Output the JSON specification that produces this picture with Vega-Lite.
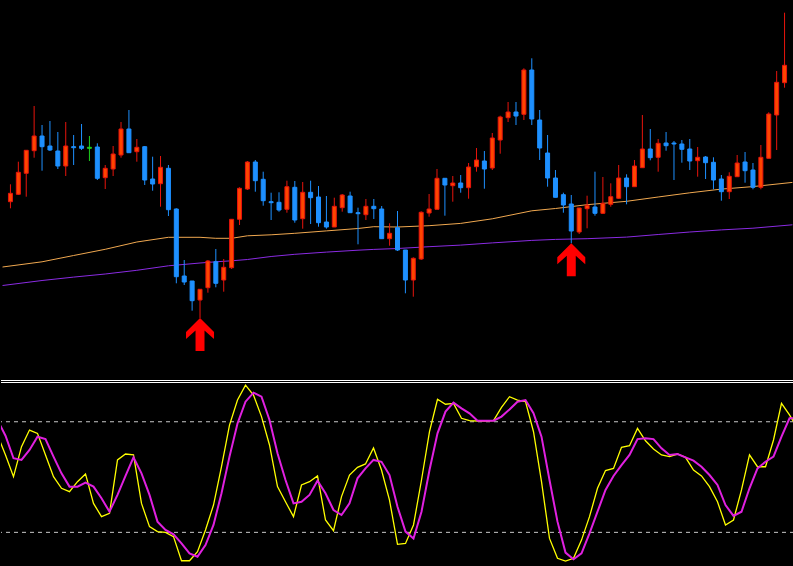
{
"$schema": "https://vega.github.io/schema/vega-lite/v6.json",
"background": "#000000",
"padding": 0,
"spacing": 0,
"config": {"view": {"stroke": null}},
"datasets": {
"candles": [
{"i":0,"d":"u","o":1.22983,"h":1.23157,"l":1.22917,"c":1.23067},
{"i":1,"d":"u","o":1.23057,"h":1.23383,"l":1.2305,"c":1.23277},
{"i":2,"d":"u","o":1.23267,"h":1.235,"l":1.23033,"c":1.23497},
{"i":3,"d":"u","o":1.23493,"h":1.2394,"l":1.23423,"c":1.2364},
{"i":4,"d":"d","o":1.2364,"h":1.2375,"l":1.23293,"c":1.23533},
{"i":5,"d":"d","o":1.2354,"h":1.2379,"l":1.2349,"c":1.235},
{"i":6,"d":"d","o":1.2349,"h":1.2368,"l":1.2331,"c":1.2334},
{"i":7,"d":"u","o":1.2334,"h":1.2378,"l":1.2324,"c":1.2354},
{"i":8,"d":"d","o":1.23533,"h":1.2365,"l":1.2335,"c":1.23523},
{"i":9,"d":"d","o":1.2354,"h":1.2376,"l":1.235,"c":1.23517},
{"i":10,"d":"f","o":1.23527,"h":1.2364,"l":1.2339,"c":1.23517},
{"i":11,"d":"d","o":1.2353,"h":1.23567,"l":1.232,"c":1.23217},
{"i":12,"d":"u","o":1.23223,"h":1.2335,"l":1.2311,"c":1.23317},
{"i":13,"d":"u","o":1.2331,"h":1.2354,"l":1.2324,"c":1.2346},
{"i":14,"d":"u","o":1.2345,"h":1.2378,"l":1.23423,"c":1.2371},
{"i":15,"d":"d","o":1.2371,"h":1.239,"l":1.23473,"c":1.23473},
{"i":16,"d":"u","o":1.23483,"h":1.2361,"l":1.23383,"c":1.23527},
{"i":17,"d":"d","o":1.23533,"h":1.2354,"l":1.2315,"c":1.232},
{"i":18,"d":"d","o":1.2321,"h":1.23433,"l":1.23093,"c":1.2316},
{"i":19,"d":"u","o":1.23163,"h":1.2344,"l":1.22933,"c":1.23327},
{"i":20,"d":"d","o":1.23317,"h":1.2335,"l":1.2284,"c":1.22903},
{"i":21,"d":"d","o":1.2291,"h":1.22917,"l":1.22167,"c":1.22233},
{"i":22,"d":"d","o":1.2224,"h":1.224,"l":1.2215,"c":1.2218},
{"i":23,"d":"d","o":1.2219,"h":1.2219,"l":1.21893,"c":1.21993},
{"i":24,"d":"u","o":1.22,"h":1.22107,"l":1.2182,"c":1.22107,"s":1},
{"i":25,"d":"u","o":1.22123,"h":1.224,"l":1.22073,"c":1.2239},
{"i":26,"d":"d","o":1.22383,"h":1.2251,"l":1.22127,"c":1.22167},
{"i":27,"d":"u","o":1.222,"h":1.2241,"l":1.22083,"c":1.22327},
{"i":28,"d":"u","o":1.22323,"h":1.22807,"l":1.2231,"c":1.22807},
{"i":29,"d":"u","o":1.22807,"h":1.23127,"l":1.2275,"c":1.23117},
{"i":30,"d":"u","o":1.2311,"h":1.2339,"l":1.231,"c":1.2338},
{"i":31,"d":"d","o":1.2338,"h":1.234,"l":1.23083,"c":1.23193},
{"i":32,"d":"d","o":1.23207,"h":1.23283,"l":1.22943,"c":1.22993},
{"i":33,"d":"d","o":1.22983,"h":1.23073,"l":1.228,"c":1.22973},
{"i":34,"d":"d","o":1.22977,"h":1.23077,"l":1.22883,"c":1.229},
{"i":35,"d":"u","o":1.22907,"h":1.23193,"l":1.22873,"c":1.23133},
{"i":36,"d":"d","o":1.23127,"h":1.2319,"l":1.22773,"c":1.228},
{"i":37,"d":"u","o":1.22813,"h":1.2318,"l":1.22713,"c":1.23077},
{"i":38,"d":"d","o":1.23077,"h":1.23193,"l":1.2276,"c":1.23023},
{"i":39,"d":"d","o":1.2303,"h":1.2314,"l":1.22733,"c":1.22773},
{"i":40,"d":"d","o":1.2278,"h":1.2304,"l":1.22713,"c":1.2273},
{"i":41,"d":"u","o":1.2273,"h":1.23023,"l":1.2273,"c":1.22937},
{"i":42,"d":"u","o":1.22923,"h":1.2306,"l":1.22883,"c":1.2305},
{"i":43,"d":"d","o":1.2304,"h":1.23083,"l":1.22873,"c":1.22873},
{"i":44,"d":"d","o":1.22873,"h":1.22923,"l":1.22557,"c":1.22863},
{"i":45,"d":"u","o":1.22853,"h":1.2301,"l":1.228,"c":1.22937},
{"i":46,"d":"d","o":1.22937,"h":1.2301,"l":1.2281,"c":1.22913},
{"i":47,"d":"d","o":1.2291,"h":1.2294,"l":1.22613,"c":1.22613},
{"i":48,"d":"u","o":1.22613,"h":1.22767,"l":1.22543,"c":1.22667},
{"i":49,"d":"d","o":1.22723,"h":1.2289,"l":1.2249,"c":1.225},
{"i":50,"d":"d","o":1.225,"h":1.225,"l":1.22067,"c":1.222},
{"i":51,"d":"u","o":1.222,"h":1.22427,"l":1.22033,"c":1.22417},
{"i":52,"d":"u","o":1.2241,"h":1.22887,"l":1.224,"c":1.22877},
{"i":53,"d":"u","o":1.2287,"h":1.2306,"l":1.22833,"c":1.2291},
{"i":54,"d":"u","o":1.22907,"h":1.2331,"l":1.22907,"c":1.23217},
{"i":55,"d":"d","o":1.23217,"h":1.23217,"l":1.22843,"c":1.2315},
{"i":56,"d":"u","o":1.23143,"h":1.2324,"l":1.22983,"c":1.2317},
{"i":57,"d":"d","o":1.2317,"h":1.2325,"l":1.23073,"c":1.23123},
{"i":58,"d":"u","o":1.23123,"h":1.2337,"l":1.23013,"c":1.2333},
{"i":59,"d":"u","o":1.23333,"h":1.2352,"l":1.23283,"c":1.234},
{"i":60,"d":"d","o":1.2339,"h":1.2349,"l":1.23113,"c":1.2331},
{"i":61,"d":"u","o":1.2332,"h":1.2367,"l":1.233,"c":1.2362},
{"i":62,"d":"u","o":1.236,"h":1.23843,"l":1.23463,"c":1.2383},
{"i":63,"d":"u","o":1.23823,"h":1.2398,"l":1.2378,"c":1.2388},
{"i":64,"d":"d","o":1.2388,"h":1.2398,"l":1.2375,"c":1.2384},
{"i":65,"d":"u","o":1.23857,"h":1.24317,"l":1.238,"c":1.243},
{"i":66,"d":"d","o":1.243,"h":1.24417,"l":1.2375,"c":1.2381},
{"i":67,"d":"d","o":1.238,"h":1.239,"l":1.234,"c":1.2352},
{"i":68,"d":"d","o":1.2347,"h":1.2365,"l":1.23133,"c":1.2322},
{"i":69,"d":"d","o":1.2322,"h":1.233,"l":1.23027,"c":1.23027},
{"i":70,"d":"d","o":1.23053,"h":1.23073,"l":1.22873,"c":1.2295},
{"i":71,"d":"d","o":1.2296,"h":1.2305,"l":1.22567,"c":1.2269,"s":1},
{"i":72,"d":"u","o":1.2268,"h":1.2292,"l":1.2266,"c":1.2292},
{"i":73,"d":"u","o":1.22913,"h":1.23043,"l":1.22717,"c":1.22947},
{"i":74,"d":"d","o":1.2293,"h":1.23283,"l":1.22843,"c":1.22867},
{"i":75,"d":"u","o":1.22867,"h":1.2323,"l":1.2286,"c":1.22967},
{"i":76,"d":"u","o":1.22957,"h":1.23167,"l":1.22933,"c":1.23033},
{"i":77,"d":"u","o":1.23017,"h":1.2335,"l":1.2301,"c":1.2322},
{"i":78,"d":"d","o":1.2322,"h":1.23257,"l":1.22957,"c":1.23133},
{"i":79,"d":"u","o":1.23133,"h":1.234,"l":1.23133,"c":1.2334},
{"i":80,"d":"u","o":1.23323,"h":1.2385,"l":1.23323,"c":1.2351},
{"i":81,"d":"d","o":1.2351,"h":1.2371,"l":1.23397,"c":1.23423},
{"i":82,"d":"u","o":1.23427,"h":1.2361,"l":1.23283,"c":1.23567},
{"i":83,"d":"d","o":1.2357,"h":1.2368,"l":1.23493,"c":1.23543},
{"i":84,"d":"d","o":1.2357,"h":1.2359,"l":1.232,"c":1.2356},
{"i":85,"d":"d","o":1.2356,"h":1.236,"l":1.23373,"c":1.23507},
{"i":86,"d":"d","o":1.2351,"h":1.2361,"l":1.233,"c":1.2339},
{"i":87,"d":"u","o":1.23393,"h":1.2353,"l":1.23233,"c":1.23427},
{"i":88,"d":"d","o":1.2343,"h":1.2344,"l":1.2321,"c":1.23373},
{"i":89,"d":"d","o":1.23377,"h":1.23427,"l":1.23107,"c":1.232},
{"i":90,"d":"d","o":1.2321,"h":1.2325,"l":1.22993,"c":1.23083},
{"i":91,"d":"u","o":1.23083,"h":1.23277,"l":1.2301,"c":1.23237},
{"i":92,"d":"u","o":1.23233,"h":1.2345,"l":1.23233,"c":1.2337},
{"i":93,"d":"d","o":1.2338,"h":1.2348,"l":1.23173,"c":1.23293},
{"i":94,"d":"d","o":1.233,"h":1.2337,"l":1.23107,"c":1.23127},
{"i":95,"d":"u","o":1.23127,"h":1.2355,"l":1.23107,"c":1.23427},
{"i":96,"d":"u","o":1.23417,"h":1.23877,"l":1.23417,"c":1.2386},
{"i":97,"d":"u","o":1.2385,"h":1.2429,"l":1.235,"c":1.24177},
{"i":98,"d":"u","o":1.24173,"h":1.24873,"l":1.24123,"c":1.24347}
],
"ma": [
{"i":-1,"a":1.2233,"b":1.22145},
{"i":4,"a":1.22382,"b":1.22195},
{"i":8,"a":1.22445,"b":1.22229},
{"i":12,"a":1.22507,"b":1.2226},
{"i":16,"a":1.2258,"b":1.22297},
{"i":20,"a":1.22627,"b":1.22342},
{"i":24,"a":1.22627,"b":1.2237},
{"i":26,"a":1.22617,"b":1.22382},
{"i":28,"a":1.22617,"b":1.22392},
{"i":30,"a":1.22642,"b":1.22405},
{"i":33,"a":1.22652,"b":1.22435},
{"i":36,"a":1.22667,"b":1.22457},
{"i":40,"a":1.22691,"b":1.22479},
{"i":44,"a":1.22715,"b":1.22498},
{"i":46,"a":1.22733,"b":1.22506},
{"i":49,"a":1.2273,"b":1.22515},
{"i":53,"a":1.22743,"b":1.22533},
{"i":57,"a":1.22766,"b":1.22549},
{"i":61,"a":1.22812,"b":1.22571},
{"i":66,"a":1.22892,"b":1.22596},
{"i":69,"a":1.22915,"b":1.22606},
{"i":73,"a":1.22953,"b":1.22613},
{"i":78,"a":1.22987,"b":1.22629},
{"i":82,"a":1.2303,"b":1.22655},
{"i":86,"a":1.23072,"b":1.2268},
{"i":90,"a":1.23109,"b":1.22701},
{"i":94,"a":1.23134,"b":1.22718},
{"i":99,"a":1.23176,"b":1.22752}
],
"stoch": [
{"i":-1,"k":72.8,"d":81.0},{"i":0,"k":62.0,"d":72.4},{"i":1,"k":50.2,"d":60.2},{"i":2,"k":66.5,"d":59.3},{"i":3,"k":75.5,"d":64.7},
{"i":4,"k":73.7,"d":71.9},{"i":5,"k":62.0,"d":70.6},{"i":6,"k":50.2,"d":61.1},{"i":7,"k":43.9,"d":52.0},{"i":8,"k":42.1,"d":44.8},
{"i":9,"k":47.5,"d":44.8},{"i":10,"k":51.7,"d":47.0},{"i":11,"k":35.7,"d":44.8},{"i":12,"k":28.5,"d":38.5},{"i":13,"k":30.3,"d":31.2},
{"i":14,"k":59.3,"d":40.3},{"i":15,"k":62.5,"d":50.6},{"i":16,"k":62.0,"d":60.7},{"i":17,"k":35.7,"d":52.0},{"i":18,"k":23.1,"d":40.3},
{"i":19,"k":20.4,"d":25.8},{"i":20,"k":20.0,"d":21.3},{"i":21,"k":17.7,"d":18.9},{"i":22,"k":4.6,"d":14.0},{"i":23,"k":4.6,"d":8.6},
{"i":24,"k":9.5,"d":6.8},{"i":25,"k":21.3,"d":13.1},{"i":26,"k":34.8,"d":24.0},{"i":27,"k":55.6,"d":41.2},{"i":28,"k":78.2,"d":61.1},
{"i":29,"k":91.8,"d":79.1},{"i":30,"k":99.9,"d":90.9},{"i":31,"k":94.5,"d":95.8},{"i":32,"k":82.8,"d":93.6},{"i":33,"k":67.4,"d":81.0},
{"i":34,"k":44.8,"d":62.9},{"i":35,"k":36.6,"d":48.4},{"i":36,"k":28.5,"d":35.7},{"i":37,"k":45.7,"d":36.6},{"i":38,"k":47.5,"d":40.3},
{"i":39,"k":50.6,"d":48.0},{"i":40,"k":26.7,"d":41.2},{"i":41,"k":20.9,"d":32.1},{"i":42,"k":39.4,"d":29.4},{"i":43,"k":51.1,"d":35.7},
{"i":44,"k":55.3,"d":49.3},{"i":45,"k":57.1,"d":54.7},{"i":46,"k":65.8,"d":59.3},{"i":47,"k":53.8,"d":58.3},{"i":48,"k":37.5,"d":51.1},
{"i":49,"k":13.5,"d":33.9},{"i":50,"k":14.0,"d":20.4},{"i":51,"k":24.0,"d":16.7},{"i":52,"k":48.4,"d":31.2},{"i":53,"k":74.6,"d":53.8},
{"i":54,"k":92.2,"d":73.7},{"i":55,"k":89.5,"d":85.5},{"i":56,"k":90.0,"d":90.4},{"i":57,"k":81.9,"d":87.3},{"i":58,"k":80.6,"d":84.6},
{"i":59,"k":80.4,"d":80.6},{"i":60,"k":80.4,"d":80.6},{"i":61,"k":80.6,"d":80.6},{"i":62,"k":87.8,"d":82.8},{"i":63,"k":93.6,"d":86.7},
{"i":64,"k":91.8,"d":90.9},{"i":65,"k":90.9,"d":91.8},{"i":66,"k":74.6,"d":84.6},{"i":67,"k":47.5,"d":71.9},{"i":68,"k":16.7,"d":48.4},
{"i":69,"k":5.9,"d":25.8},{"i":70,"k":4.4,"d":9.0},{"i":71,"k":5.9,"d":5.4},{"i":72,"k":15.8,"d":8.6},{"i":73,"k":28.5,"d":19.5},
{"i":74,"k":43.9,"d":31.2},{"i":75,"k":53.5,"d":43.0},{"i":76,"k":54.7,"d":50.6},{"i":77,"k":66.1,"d":56.5},{"i":78,"k":67.0,"d":62.0},
{"i":79,"k":76.4,"d":70.6},{"i":80,"k":69.7,"d":71.0},{"i":81,"k":65.2,"d":70.6},{"i":82,"k":62.0,"d":65.6},{"i":83,"k":61.1,"d":62.0},
{"i":84,"k":62.5,"d":62.5},{"i":85,"k":60.7,"d":60.7},{"i":86,"k":53.8,"d":58.9},{"i":87,"k":50.6,"d":55.6},{"i":88,"k":44.8,"d":51.1},
{"i":89,"k":36.6,"d":45.7},{"i":90,"k":24.0,"d":34.8},{"i":91,"k":26.7,"d":28.9},{"i":92,"k":43.0,"d":31.2},{"i":93,"k":62.0,"d":43.9},
{"i":94,"k":55.6,"d":54.7},{"i":95,"k":55.6,"d":58.3},{"i":96,"k":70.1,"d":61.1},{"i":97,"k":90.0,"d":71.9},{"i":98,"k":83.7,"d":81.9},
{"i":99,"k":76.4,"d":81.9}
],
"sep": [{"v": 1.21195}, {"v": 1.21175}],
"levels": [{"v": 80}, {"v": 20}]
},
"vconcat": [
{
"width": 793,
"height": 383,
"layer": [
{"data": {"name": "ma"}, "mark": {"type": "line", "color": "#F0A850", "strokeWidth": 1, "clip": true},
 "encoding": {"x": {"field": "i", "type": "quantitative", "scale": {"domain": [-0.5625, 98.5625], "nice": false, "zero": false}, "axis": null},
  "y": {"field": "a", "type": "quantitative", "scale": {"domain": [1.2117, 1.25], "nice": false, "zero": false}, "axis": null}}},
{"data": {"name": "ma"}, "mark": {"type": "line", "color": "#8A2BE2", "strokeWidth": 1, "clip": true},
 "encoding": {"x": {"field": "i", "type": "quantitative", "scale": {"domain": [-0.5625, 98.5625], "nice": false, "zero": false}, "axis": null},
  "y": {"field": "b", "type": "quantitative", "scale": {"domain": [1.2117, 1.25], "nice": false, "zero": false}, "axis": null}}},
{"data": {"name": "candles"}, "mark": {"type": "rule", "strokeWidth": 1, "clip": true},
 "encoding": {"x": {"field": "i", "type": "quantitative", "scale": {"domain": [-0.5625, 98.5625], "nice": false, "zero": false}, "axis": null},
  "y": {"field": "l", "type": "quantitative", "scale": {"domain": [1.2117, 1.25], "nice": false, "zero": false}, "axis": null},
  "y2": {"field": "h"},
  "color": {"field": "d", "type": "nominal", "scale": {"domain": ["u", "d", "f"], "range": ["#E8140C", "#1E90FF", "#1ED01E"]}, "legend": null}}},
{"data": {"name": "candles"}, "mark": {"type": "bar", "size": 4, "strokeWidth": 1, "orient": "vertical", "clip": true},
 "encoding": {"x": {"field": "i", "type": "quantitative", "scale": {"domain": [-0.5625, 98.5625], "nice": false, "zero": false}, "axis": null},
  "y": {"field": "o", "type": "quantitative", "scale": {"domain": [1.2117, 1.25], "nice": false, "zero": false}, "axis": null},
  "y2": {"field": "c"},
  "fill": {"field": "d", "type": "nominal", "scale": {"domain": ["u", "d", "f"], "range": ["#FF4500", "#1E90FF", "#1ED01E"]}, "legend": null},
  "stroke": {"field": "d", "type": "nominal", "scale": {"domain": ["u", "d", "f"], "range": ["#E8140C", "#1E90FF", "#1ED01E"]}, "legend": null}}},
{"data": {"name": "candles"}, "transform": [{"filter": "datum.s == 1"}],
 "mark": {"type": "point", "shape": "M0,0L1,1L1,1.5L0.32,0.89L0.32,2.36L-0.32,2.36L-0.32,0.89L-1,1.5L-1,1Z", "size": 784, "filled": true, "color": "#FF0000", "opacity": 1, "strokeWidth": 0},
 "encoding": {"x": {"field": "i", "type": "quantitative", "scale": {"domain": [-0.5625, 98.5625], "nice": false, "zero": false}, "axis": null},
  "y": {"field": "l", "type": "quantitative", "scale": {"domain": [1.2117, 1.25], "nice": false, "zero": false}, "axis": null}}},
{"data": {"name": "sep"}, "mark": {"type": "rule", "color": "#FFFFFF", "strokeWidth": 1},
 "encoding": {"y": {"field": "v", "type": "quantitative", "scale": {"domain": [1.2117, 1.25], "nice": false, "zero": false}, "axis": null}}}
]
},
{
"width": 793,
"height": 183,
"layer": [
{"data": {"name": "levels"}, "mark": {"type": "rule", "color": "#C8C8C8", "strokeWidth": 1, "strokeDash": [4, 4]},
 "encoding": {"y": {"field": "v", "type": "quantitative", "scale": {"domain": [1.74, 101.03], "nice": false, "zero": false}, "axis": null}}},
{"data": {"name": "stoch"}, "mark": {"type": "line", "color": "#FFFF00", "strokeWidth": 1.3, "clip": true},
 "encoding": {"x": {"field": "i", "type": "quantitative", "scale": {"domain": [-0.5625, 98.5625], "nice": false, "zero": false}, "axis": null},
  "y": {"field": "k", "type": "quantitative", "scale": {"domain": [1.74, 101.03], "nice": false, "zero": false}, "axis": null}}},
{"data": {"name": "stoch"}, "mark": {"type": "line", "color": "#E020E0", "strokeWidth": 2, "clip": true},
 "encoding": {"x": {"field": "i", "type": "quantitative", "scale": {"domain": [-0.5625, 98.5625], "nice": false, "zero": false}, "axis": null},
  "y": {"field": "d", "type": "quantitative", "scale": {"domain": [1.74, 101.03], "nice": false, "zero": false}, "axis": null}}}
]
}
]
}
